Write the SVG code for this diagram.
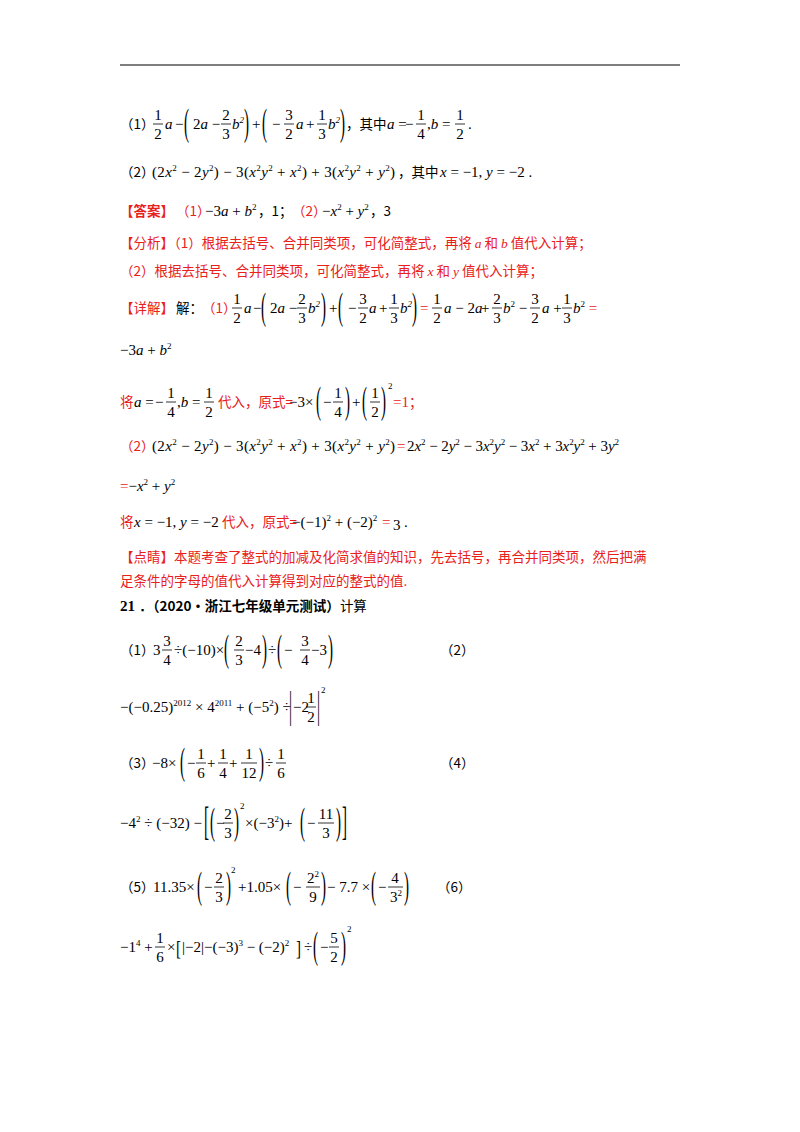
<svg xmlns="http://www.w3.org/2000/svg" width="800" height="1132" viewBox="0 0 800 1132">
<style>
text{font-family:"Liberation Serif","DejaVu Serif",serif;font-size:15px;fill:#000}
.i{font-style:italic}
.c{font-family:"Noto Sans CJK SC","Noto Sans",sans-serif;font-size:13.5px}
.r{fill:#e8211c}
.b{font-weight:bold}
.s{font-size:9px;baseline-shift:6px}
.m{text-anchor:middle}
line{stroke:#000;stroke-width:0.8}
</style>
<rect width="800" height="1132" fill="#fff"/>
<line x1="120" y1="65" x2="680" y2="65" style="stroke-width:1.2"/>

<g id="q1">
<text class="c" x="120" y="129" fill="#333">（1）</text>
<text class="m" x="158" y="120">1</text><text class="m" x="158" y="139">2</text><line x1="153" x2="163" y1="124" y2="124"/>
<text class="i" x="165" y="129">a</text><text x="175" y="129">−</text>
<text transform="translate(184,135) scale(1,2.5)">(</text>
<text x="193" y="129">2<tspan class="i">a</tspan> −</text>
<text class="m" x="226" y="120">2</text><text class="m" x="226" y="139">3</text><line x1="221" x2="231" y1="124" y2="124"/>
<text class="i" x="232" y="129">b<tspan class="s">2</tspan></text>
<text transform="translate(244,135) scale(1,2.5)">)</text>
<text x="252" y="129">+</text>
<text transform="translate(262,135) scale(1,2.5)">(</text>
<text x="272" y="129">−</text>
<text class="m" x="289" y="120">3</text><text class="m" x="289" y="139">2</text><line x1="284" x2="294" y1="124" y2="124"/>
<text class="i" x="296" y="129">a</text><text x="306" y="129">+</text>
<text class="m" x="322" y="120">1</text><text class="m" x="322" y="139">3</text><line x1="317" x2="327" y1="124" y2="124"/>
<text class="i" x="328" y="129">b<tspan class="s">2</tspan></text>
<text transform="translate(340,135) scale(1,2.5)">)</text>
<text class="c" x="346" y="129">，其中</text>
<text x="387" y="129"><tspan class="i">a</tspan> =</text>
<text x="405" y="129">−</text>
<text class="m" x="421" y="120">1</text><text class="m" x="421" y="139">4</text><line x1="416" x2="426" y1="124" y2="124"/>
<text x="427" y="129">,<tspan class="i">b</tspan> =</text>
<text class="m" x="460" y="120">1</text><text class="m" x="460" y="139">2</text><line x1="455" x2="465" y1="124" y2="124"/>
<text x="468" y="129">.</text>
</g>

<g id="q2">
<text class="c" x="120" y="177" fill="#333">（2）</text>
<text x="152" y="177" textLength="243" lengthAdjust="spacing">(2<tspan class="i">x</tspan><tspan class="s">2</tspan> − 2<tspan class="i">y</tspan><tspan class="s">2</tspan>) − 3(<tspan class="i">x</tspan><tspan class="s">2</tspan><tspan class="i">y</tspan><tspan class="s">2</tspan> + <tspan class="i">x</tspan><tspan class="s">2</tspan>) + 3(<tspan class="i">x</tspan><tspan class="s">2</tspan><tspan class="i">y</tspan><tspan class="s">2</tspan> + <tspan class="i">y</tspan><tspan class="s">2</tspan>)</text>
<text class="c" x="398" y="177">，其中</text>
<text x="440" y="177"><tspan class="i">x</tspan> = −1, <tspan class="i">y</tspan> = −2 .</text>
</g>

<g id="answer">
<text class="c r b" x="120" y="216">【答案】</text>
<text class="c r" x="176" y="216">（1）</text>
<text x="205" y="216">−3<tspan class="i">a</tspan> + <tspan class="i">b</tspan><tspan class="s">2</tspan></text>
<text class="c" x="258" y="216">，1；</text>
<text class="c r" x="292" y="216">（2）</text>
<text x="322" y="216">−<tspan class="i">x</tspan><tspan class="s">2</tspan> + <tspan class="i">y</tspan><tspan class="s">2</tspan></text>
<text class="c" x="370" y="216">，3</text>
</g>

<g id="analysis">
<text class="c r" x="120" y="248">【分析】（1）根据去括号、合并同类项，可化简整式，再将 <tspan class="i" style="font-family:'Liberation Serif',serif">a</tspan> 和 <tspan class="i" style="font-family:'Liberation Serif',serif">b</tspan> 值代入计算；</text>
<text class="c r" x="120" y="276">（2）根据去括号、合并同类项，可化简整式，再将 <tspan class="i" style="font-family:'Liberation Serif',serif">x</tspan> 和 <tspan class="i" style="font-family:'Liberation Serif',serif">y</tspan> 值代入计算；</text>
</g>

<g id="detail1">
<text class="c r" x="120" y="313">【详解】</text><text class="c" x="176" y="313">解：</text><text class="c r" x="202" y="313">（1）</text>
<text class="m" x="237" y="304">1</text><text class="m" x="237" y="323">2</text><line x1="232" x2="242" y1="308" y2="308"/>
<text class="i" x="244" y="313">a</text><text x="253" y="313">−</text>
<text transform="translate(261,319) scale(1,2.5)">(</text>
<text x="270" y="313">2<tspan class="i">a</tspan> −</text>
<text class="m" x="302" y="304">2</text><text class="m" x="302" y="323">3</text><line x1="297" x2="307" y1="308" y2="308"/>
<text class="i" x="308" y="313">b<tspan class="s">2</tspan></text>
<text transform="translate(321,319) scale(1,2.5)">)</text>
<text x="329" y="313">+</text>
<text transform="translate(338,319) scale(1,2.5)">(</text>
<text x="348" y="313">−</text>
<text class="m" x="363" y="304">3</text><text class="m" x="363" y="323">2</text><line x1="358" x2="368" y1="308" y2="308"/>
<text class="i" x="369" y="313">a</text><text x="379" y="313">+</text>
<text class="m" x="394" y="304">1</text><text class="m" x="394" y="323">3</text><line x1="389" x2="399" y1="308" y2="308"/>
<text class="i" x="400" y="313">b<tspan class="s">2</tspan></text>
<text transform="translate(412,319) scale(1,2.5)">)</text>
<text class="r" x="420" y="313">=</text>
<text class="m" x="437" y="304">1</text><text class="m" x="437" y="323">2</text><line x1="432" x2="442" y1="308" y2="308"/>
<text x="444" y="313"><tspan class="i">a</tspan> − 2<tspan class="i">a</tspan></text>
<text x="481" y="313">+</text>
<text class="m" x="497" y="304">2</text><text class="m" x="497" y="323">3</text><line x1="492" x2="502" y1="308" y2="308"/>
<text x="503" y="313"><tspan class="i">b</tspan><tspan class="s">2</tspan> −</text>
<text class="m" x="535" y="304">3</text><text class="m" x="535" y="323">2</text><line x1="530" x2="540" y1="308" y2="308"/>
<text x="542" y="313"><tspan class="i">a</tspan> +</text>
<text class="m" x="567" y="304">1</text><text class="m" x="567" y="323">3</text><line x1="562" x2="572" y1="308" y2="308"/>
<text x="573" y="313"><tspan class="i">b</tspan><tspan class="s">2</tspan><tspan class="r"> =</tspan></text>
<text x="120" y="355">−3<tspan class="i">a</tspan> + <tspan class="i">b</tspan><tspan class="s">2</tspan></text>
</g>

<g id="sub1">
<text class="c r" x="120" y="407">将</text>
<text x="134" y="407"><tspan class="i">a</tspan> =</text>
<text x="155" y="407">−</text>
<text class="m" x="171" y="398">1</text><text class="m" x="171" y="417">4</text><line x1="166" x2="176" y1="402" y2="402"/>
<text x="177" y="407">,<tspan class="i">b</tspan> =</text>
<text class="m" x="209" y="398">1</text><text class="m" x="209" y="417">2</text><line x1="204" x2="214" y1="402" y2="402"/>
<text class="c r" x="218" y="407">代入，原式=</text>
<text x="289" y="407">−3×</text>
<text transform="translate(316,413) scale(1,2.5)">(</text>
<text x="323" y="407">−</text>
<text class="m" x="338" y="398">1</text><text class="m" x="338" y="417">4</text><line x1="333" x2="343" y1="402" y2="402"/>
<text transform="translate(345,413) scale(1,2.5)">)</text>
<text x="352" y="407">+</text>
<text transform="translate(362,413) scale(1,2.5)">(</text>
<text class="m" x="375" y="398">1</text><text class="m" x="375" y="417">2</text><line x1="370" x2="380" y1="402" y2="402"/>
<text transform="translate(381,413) scale(1,2.5)">)</text>
<text x="388" y="389" style="font-size:9px">2</text>
<text class="r" x="393" y="407">=1</text><text class="c r" x="409" y="407">；</text>
</g>

<g id="detail2">
<text class="c r" x="120" y="451">（2）</text>
<text x="152" y="451" textLength="243" lengthAdjust="spacing">(2<tspan class="i">x</tspan><tspan class="s">2</tspan> − 2<tspan class="i">y</tspan><tspan class="s">2</tspan>) − 3(<tspan class="i">x</tspan><tspan class="s">2</tspan><tspan class="i">y</tspan><tspan class="s">2</tspan> + <tspan class="i">x</tspan><tspan class="s">2</tspan>) + 3(<tspan class="i">x</tspan><tspan class="s">2</tspan><tspan class="i">y</tspan><tspan class="s">2</tspan> + <tspan class="i">y</tspan><tspan class="s">2</tspan>)</text>
<text class="r" x="397" y="451">=</text>
<text x="407" y="451" textLength="212" lengthAdjust="spacing">2<tspan class="i">x</tspan><tspan class="s">2</tspan> − 2<tspan class="i">y</tspan><tspan class="s">2</tspan> − 3<tspan class="i">x</tspan><tspan class="s">2</tspan><tspan class="i">y</tspan><tspan class="s">2</tspan> − 3<tspan class="i">x</tspan><tspan class="s">2</tspan> + 3<tspan class="i">x</tspan><tspan class="s">2</tspan><tspan class="i">y</tspan><tspan class="s">2</tspan> + 3<tspan class="i">y</tspan><tspan class="s">2</tspan></text>
<text x="120" y="491"><tspan class="r">=</tspan>−<tspan class="i">x</tspan><tspan class="s">2</tspan> + <tspan class="i">y</tspan><tspan class="s">2</tspan></text>
<text class="c r" x="120" y="527">将</text>
<text x="134" y="527"><tspan class="i">x</tspan> = −1, <tspan class="i">y</tspan> = −2</text>
<text class="c r" x="222" y="527">代入，原式=</text>
<text x="292" y="527">−(−1)<tspan class="s">2</tspan> + (−2)<tspan class="s">2</tspan></text>
<text class="r" x="382" y="527">=</text><text x="393" y="530">3</text><text x="404" y="527">.</text>
</g>

<g id="comment">
<text class="c r" x="120" y="562">【点睛】本题考查了整式的加减及化简求值的知识，先去括号，再合并同类项，然后把满</text>
<text class="c r" x="120" y="586">足条件的字母的值代入计算得到对应的整式的值.</text>
</g>

<g id="title21">
<text class="b" x="120" y="611">21．</text>
<text class="c b" x="146" y="611">（2020·浙江七年级单元测试）<tspan style="font-weight:normal">计算</tspan></text>
</g>

<g id="p1">
<text class="c" x="120" y="655" fill="#333">（1）</text>
<text x="153" y="655">3</text>
<text class="m" x="167" y="646">3</text><text class="m" x="167" y="665">4</text><line x1="162" x2="172" y1="650" y2="650"/>
<text x="174" y="655">÷(−10)×</text>
<text transform="translate(224,661) scale(1,2.5)">(</text>
<text class="m" x="239" y="646">2</text><text class="m" x="239" y="665">3</text><line x1="234" x2="244" y1="650" y2="650"/>
<text x="245" y="655">−4</text>
<text transform="translate(262,661) scale(1,2.5)">)</text>
<text x="268" y="655">÷</text>
<text transform="translate(277,661) scale(1,2.5)">(</text>
<text x="284" y="655">−</text>
<text class="m" x="305" y="646">3</text><text class="m" x="305" y="665">4</text><line x1="300" x2="310" y1="650" y2="650"/>
<text x="311" y="655">−3</text>
<text transform="translate(328,661) scale(1,2.5)">)</text>
<text class="c" x="440" y="655" fill="#333">（2）</text>
</g>

<g id="p2">
<text x="120" y="712">−(−0.25)<tspan class="s">2012</tspan> × 4<tspan class="s">2011</tspan> + (−5<tspan class="s">2</tspan>) ÷</text>
<text transform="translate(289,718) scale(1,2.5)">|</text>
<text x="293" y="712">−2</text>
<text class="m" x="311" y="703">1</text><text class="m" x="311" y="722">2</text><line x1="306" x2="316" y1="707" y2="707"/>
<text transform="translate(317,718) scale(1,2.5)">|</text>
<text x="321" y="693" style="font-size:9px">2</text>
</g>

<g id="p3">
<text class="c" x="120" y="768" fill="#333">（3）</text>
<text x="152" y="768">−8×</text>
<text transform="translate(180,774) scale(1,2.5)">(</text>
<text x="187" y="768">−</text>
<text class="m" x="201" y="759">1</text><text class="m" x="201" y="778">6</text><line x1="196" x2="206" y1="763" y2="763"/>
<text x="207" y="768">+</text>
<text class="m" x="223" y="759">1</text><text class="m" x="223" y="778">4</text><line x1="218" x2="228" y1="763" y2="763"/>
<text x="229" y="768">+</text>
<text class="m" x="249" y="759">1</text><text class="m" x="249" y="778">12</text><line x1="241" x2="257" y1="763" y2="763"/>
<text transform="translate(259,774) scale(1,2.5)">)</text>
<text x="265" y="768">÷</text>
<text class="m" x="281" y="759">1</text><text class="m" x="281" y="778">6</text><line x1="276" x2="286" y1="763" y2="763"/>
<text class="c" x="440" y="768" fill="#333">（4）</text>
</g>

<g id="p4">
<text x="120" y="828">−4<tspan class="s">2</tspan> ÷ (−32) −</text>
<text transform="translate(204,835) scale(1,2.6)">[</text>
<text transform="translate(210,834) scale(1,2.5)">(</text>
<text x="216" y="828">−</text>
<text class="m" x="228" y="819">2</text><text class="m" x="228" y="838">3</text><line x1="223" x2="233" y1="823" y2="823"/>
<text transform="translate(234,834) scale(1,2.5)">)</text>
<text x="240" y="809" style="font-size:9px">2</text>
<text x="245" y="828">×(−3<tspan class="s">2</tspan>)+</text>
<text transform="translate(300,834) scale(1,2.5)">(</text>
<text x="307" y="828">−</text>
<text class="m" x="326" y="819">11</text><text class="m" x="326" y="838">3</text><line x1="318" x2="334" y1="823" y2="823"/>
<text transform="translate(336,834) scale(1,2.5)">)</text>
<text transform="translate(342,835) scale(1,2.6)">]</text>
</g>

<g id="p5">
<text class="c" x="120" y="892" fill="#333">（5）</text>
<text x="153" y="892">11.35×</text>
<text transform="translate(197,898) scale(1,2.5)">(</text>
<text x="204" y="892">−</text>
<text class="m" x="219" y="883">2</text><text class="m" x="219" y="902">3</text><line x1="214" x2="224" y1="887" y2="887"/>
<text transform="translate(226,898) scale(1,2.5)">)</text>
<text x="231" y="873" style="font-size:9px">2</text>
<text x="238" y="892">+1.05×</text>
<text transform="translate(286,898) scale(1,2.5)">(</text>
<text x="293" y="892">−</text>
<text class="m" x="313" y="883">2<tspan class="s">2</tspan></text><text class="m" x="313" y="902">9</text><line x1="306" x2="320" y1="887" y2="887"/>
<text transform="translate(321,898) scale(1,2.5)">)</text>
<text x="327" y="892">− 7.7 ×</text>
<text transform="translate(371,898) scale(1,2.5)">(</text>
<text x="378" y="892">−</text>
<text class="m" x="395" y="883">4</text><text class="m" x="396" y="902">3<tspan class="s">2</tspan></text><line x1="388" x2="403" y1="887" y2="887"/>
<text transform="translate(404,898) scale(1,2.5)">)</text>
<text class="c" x="437" y="892" fill="#333">（6）</text>
</g>

<g id="p6">
<text x="120" y="952">−1<tspan class="s">4</tspan> +</text>
<text class="m" x="160" y="943">1</text><text class="m" x="160" y="962">6</text><line x1="155" x2="165" y1="947" y2="947"/>
<text x="167" y="952">×</text>
<text transform="translate(176,955) scale(1,1.4)">[</text>
<text x="182" y="952">|−2|−(−3)<tspan class="s">3</tspan> − (−2)<tspan class="s">2</tspan></text>
<text transform="translate(296,955) scale(1,1.4)">]</text>
<text x="304" y="952">÷</text>
<text transform="translate(313,958) scale(1,2.5)">(</text>
<text x="320" y="952">−</text>
<text class="m" x="334" y="943">5</text><text class="m" x="334" y="962">2</text><line x1="329" x2="339" y1="947" y2="947"/>
<text transform="translate(341,958) scale(1,2.5)">)</text>
<text x="347" y="932" style="font-size:9px">2</text>
</g>
</svg>
